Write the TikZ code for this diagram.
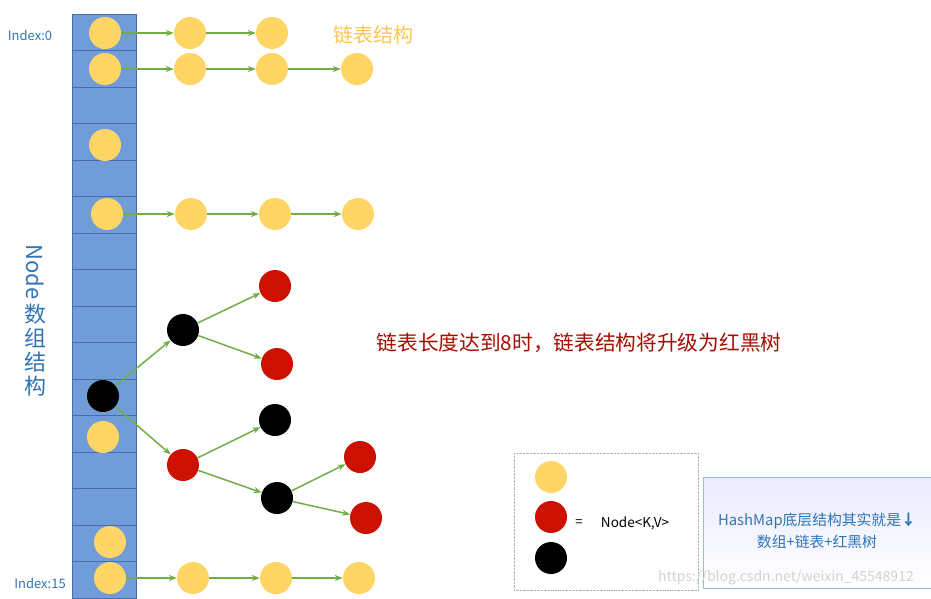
\documentclass[tikz,border=0pt]{standalone}
\usepackage{fontspec}
\setmainfont{Noto Sans CJK SC}
\usepackage{tikz}
\usetikzlibrary{arrows.meta}
\definecolor{cellblue}{RGB}{112,157,216}
\definecolor{cellline}{RGB}{70,110,170}
\definecolor{nodeyellow}{RGB}{255,214,102}
\definecolor{nodered}{RGB}{204,17,0}
\definecolor{linkgreen}{RGB}{112,173,71}
\definecolor{textblue}{RGB}{46,117,182}
\begin{document}
\begin{tikzpicture}[x=1pt,y=-1pt]
\tikzstyle{cell}=[draw=cellline, fill=cellblue]
\tikzstyle{entry}=[circle, minimum size=32pt, inner sep=0pt]
\tikzstyle{yel}=[entry, fill=nodeyellow]
\tikzstyle{red}=[entry, fill=nodered]
\tikzstyle{blk}=[entry, fill=black]
\tikzstyle{link}=[draw=linkgreen, line width=1.5pt, -{Stealth[length=8pt]}]
\tikzstyle{label}=[text=textblue, font=\fontsize{13}{15}\selectfont]

\useasboundingbox (0,0) rectangle (931,598);

% array of buckets
\foreach \i in {0,...,15}
  \path[cell] (72, 14+36.5*\i) rectangle (136, 50.5+36.5*\i);
\node[label] (idx0) at (30,35) {Index:0};
\node[label] (idx15) at (40,583) {Index:15};
\node[text=textblue, font=\fontsize{22}{22}\selectfont, rotate=-90] (title-node) at (35,272) {Node};
\node[text=textblue, font=\fontsize{22}{24}\selectfont, align=center] (title-cjk) at (35,350) {数\\组\\结\\构};

% linked lists
\node[yel] (a0) at (105,33) {};
\node[yel] (a1) at (190,33) {};
\node[yel] (a2) at (272,33) {};
\node[yel] (b0) at (105,69) {};
\node[yel] (b1) at (190,69) {};
\node[yel] (b2) at (272,69) {};
\node[yel] (b3) at (357,69) {};
\node[yel] (c0) at (105,145) {};
\node[yel] (d0) at (107,214) {};
\node[yel] (d1) at (191,214) {};
\node[yel] (d2) at (275,214) {};
\node[yel] (d3) at (358,214) {};
\node[yel] (f0) at (110,542) {};
\node[yel] (g0) at (110,578) {};
\node[yel] (g1) at (193,578) {};
\node[yel] (g2) at (276,578) {};
\node[yel] (g3) at (359,578) {};
\path[link] (a0) -- (a1);
\path[link] (a1) -- (a2);
\path[link] (b0) -- (b1);
\path[link] (b1) -- (b2);
\path[link] (b2) -- (b3);
\path[link] (d0) -- (d1);
\path[link] (d1) -- (d2);
\path[link] (d2) -- (d3);
\path[link] (g0) -- (g1);
\path[link] (g1) -- (g2);
\path[link] (g2) -- (g3);
\node[text=nodeyellow!80!orange, font=\fontsize{20}{20}\selectfont] (list-title) at (373,35) {链表结构};

% red-black tree
\node[yel] (e1) at (103,437) {};
\node[blk] (root) at (103,396) {};
\node[blk] (t1) at (183,330) {};
\node[red] (t2) at (183,465) {};
\node[red] (t3) at (275,286) {};
\node[red] (t4) at (277,364) {};
\node[blk] (t5) at (275,420) {};
\node[blk] (t6) at (277,498) {};
\node[red] (t7) at (360,457) {};
\node[red] (t8) at (366,518) {};
\path[link] (root) -- (t1);
\path[link] (root) -- (t2);
\path[link] (t1) -- (t3);
\path[link] (t1) -- (t4);
\path[link] (t2) -- (t5);
\path[link] (t2) -- (t6);
\path[link] (t6) -- (t7);
\path[link] (t6) -- (t8);
\node[text=nodered!80!black, font=\fontsize{20.7}{21}\selectfont] (tree-note) at (579,343) {链表长度达到8时，链表结构将升级为红黑树};

% legend
\draw[densely dotted, gray!60] (514,453) rectangle (698,590);
\node[yel] (k1) at (551,477) {};
\node[red] (k2) at (551,517) {};
\node[blk] (k3) at (551,558) {};
\node[font=\fontsize{13}{15}\selectfont] (eq) at (579,523) {=};
\node[font=\fontsize{13.5}{15}\selectfont] (kv) at (635,523) {Node<K,V>};

% summary box
\path[draw=textblue!50, shade, top color=blue!8, bottom color=white] (703,477) rectangle (931,588);
\node[text=textblue, font=\fontsize{14.8}{22}\selectfont, align=center] (summary) at (817,531) {HashMap底层结构其实就是\textbf{↓}\\数组+链表+红黑树};
\node[text=gray!35, font=\fontsize{14}{14}\selectfont] (mark) at (786,578) {https://blog.csdn.net/weixin\_45548912};
\end{tikzpicture}
\end{document}
